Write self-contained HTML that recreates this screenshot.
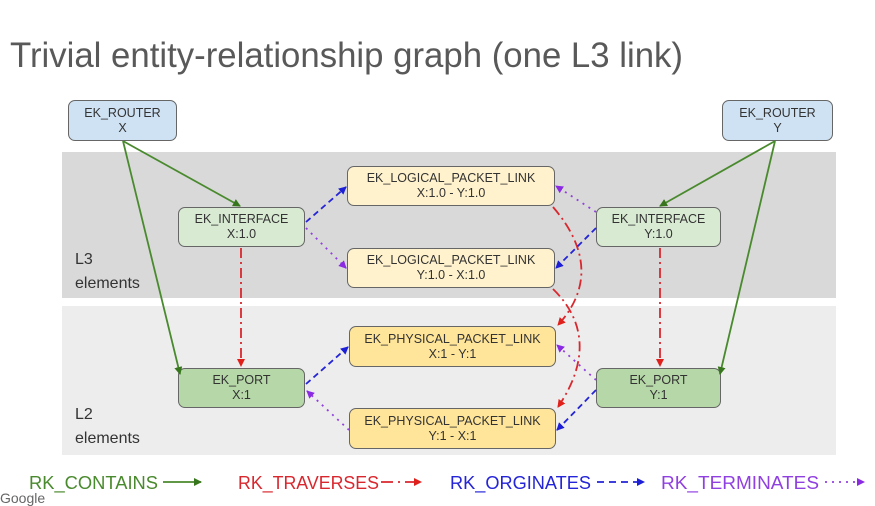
<!DOCTYPE html>
<html><head><meta charset="utf-8"><style>
body{margin:0;width:875px;height:500px;background:#fff;overflow:hidden;font-family:"Liberation Sans",sans-serif;position:relative}
.band{position:absolute;left:62px;width:774px}
.n{position:absolute;border:1.5px solid #666;border-radius:7px;box-sizing:border-box;font-size:12.5px;color:#333;text-align:center;line-height:15px;display:flex;align-items:center;justify-content:center}
.lab{position:absolute;left:75px;font-size:16px;color:#333;line-height:24px}
</style></head><body>
<div class="band" style="top:152px;height:146px;background:#d9d9d9"></div>
<div class="band" style="top:306px;height:149px;background:#ededed"></div>
<div class="lab" style="top:248px">L3<br>elements</div>
<div class="lab" style="top:403px">L2<br>elements</div>
<div class="n" style="left:68px;top:100px;width:109px;height:41px;background:#cfe2f3">EK_ROUTER<br>X</div>
<div class="n" style="left:722px;top:100px;width:111px;height:41px;background:#cfe2f3">EK_ROUTER<br>Y</div>
<div class="n" style="left:178px;top:207px;width:127px;height:40px;background:#d9ead3">EK_INTERFACE<br>X:1.0</div>
<div class="n" style="left:596px;top:207px;width:125px;height:40px;background:#d9ead3">EK_INTERFACE<br>Y:1.0</div>
<div class="n" style="left:347px;top:166px;width:208px;height:40px;background:#fff2cc">EK_LOGICAL_PACKET_LINK<br>X:1.0 - Y:1.0</div>
<div class="n" style="left:347px;top:248px;width:208px;height:40px;background:#fff2cc">EK_LOGICAL_PACKET_LINK<br>Y:1.0 - X:1.0</div>
<div class="n" style="left:349px;top:326px;width:207px;height:41px;background:#ffe599">EK_PHYSICAL_PACKET_LINK<br>X:1 - Y:1</div>
<div class="n" style="left:349px;top:408px;width:207px;height:41px;background:#ffe599">EK_PHYSICAL_PACKET_LINK<br>Y:1 - X:1</div>
<div class="n" style="left:178px;top:368px;width:127px;height:40px;background:#b6d7a8">EK_PORT<br>X:1</div>
<div class="n" style="left:596px;top:368px;width:125px;height:40px;background:#b6d7a8">EK_PORT<br>Y:1</div>
<svg width="875" height="500" style="position:absolute;left:0;top:0">
<defs>
<marker id="g" markerWidth="8" markerHeight="8" refX="7" refY="4" orient="auto" markerUnits="userSpaceOnUse"><path d="M0,0L8,4L0,8z" fill="#38761d"/></marker>
<marker id="r" markerWidth="8" markerHeight="8" refX="7" refY="4" orient="auto" markerUnits="userSpaceOnUse"><path d="M0,0L8,4L0,8z" fill="#e0201b"/></marker>
<marker id="b" markerWidth="8" markerHeight="8" refX="7" refY="4" orient="auto" markerUnits="userSpaceOnUse"><path d="M0,0L8,4L0,8z" fill="#1c1fd6"/></marker>
<marker id="p" markerWidth="8" markerHeight="8" refX="7" refY="4" orient="auto" markerUnits="userSpaceOnUse"><path d="M0,0L8,4L0,8z" fill="#8a2be2"/></marker>
</defs>
<text x="10" y="67" font-size="35" fill="#595959" textLength="673" lengthAdjust="spacingAndGlyphs" font-family="Liberation Sans">Trivial entity-relationship graph (one L3 link)</text>
<g fill="none" stroke-width="1.8">
<g stroke="#4a8a2e" marker-end="url(#g)">
<path d="M123,141L240,206"/><path d="M123,141L180,374"/>
<path d="M775,141L660,206"/><path d="M775,141L720,374"/>
</g>
<g stroke="#d9272e" stroke-dasharray="10,4,2,4" marker-end="url(#r)">
<path d="M241,248L241,366"/><path d="M660,248L660,366"/>
<path d="M553,207C590,250 590,290 558,325"/>
<path d="M553,289C585,320 590,360 558,407"/>
</g>
<g stroke="#2424d8" stroke-dasharray="6,4" marker-end="url(#b)">
<path d="M306,222L346,187"/><path d="M306,384L348,347"/>
<path d="M596,228L556,268"/><path d="M596,390L557,430"/>
</g>
<g stroke="#9040e0" stroke-dasharray="2,5" marker-end="url(#p)">
<path d="M306,228L346,268"/><path d="M349,430L307,391"/>
<path d="M596,212L556,186"/><path d="M596,380L557,345"/>
</g>
<path d="M163,482L201,482" stroke="#4a8a2e" marker-end="url(#g)"/>
<path d="M381,482L421,482" stroke="#d9272e" stroke-dasharray="12,5,2,5" marker-end="url(#r)"/>
<path d="M597,482L644,482" stroke="#2424d8" stroke-dasharray="7,5" marker-end="url(#b)"/>
<path d="M825,482L864,482" stroke="#9040e0" stroke-dasharray="2,5" marker-end="url(#p)"/>
</g>
<g font-size="18" font-family="Liberation Sans">
<text x="29" y="489" fill="#4a8a2e" textLength="129" lengthAdjust="spacingAndGlyphs">RK_CONTAINS</text>
<text x="238" y="489" fill="#d9272e" textLength="141" lengthAdjust="spacingAndGlyphs">RK_TRAVERSES</text>
<text x="450" y="489" fill="#2424d8" textLength="141" lengthAdjust="spacingAndGlyphs">RK_ORGINATES</text>
<text x="661" y="489" fill="#9040e0" textLength="158" lengthAdjust="spacingAndGlyphs">RK_TERMINATES</text>
</g>
</svg>
<div style="position:absolute;left:0;top:490px;font-size:14px;color:#666">Google</div>
</body></html>
